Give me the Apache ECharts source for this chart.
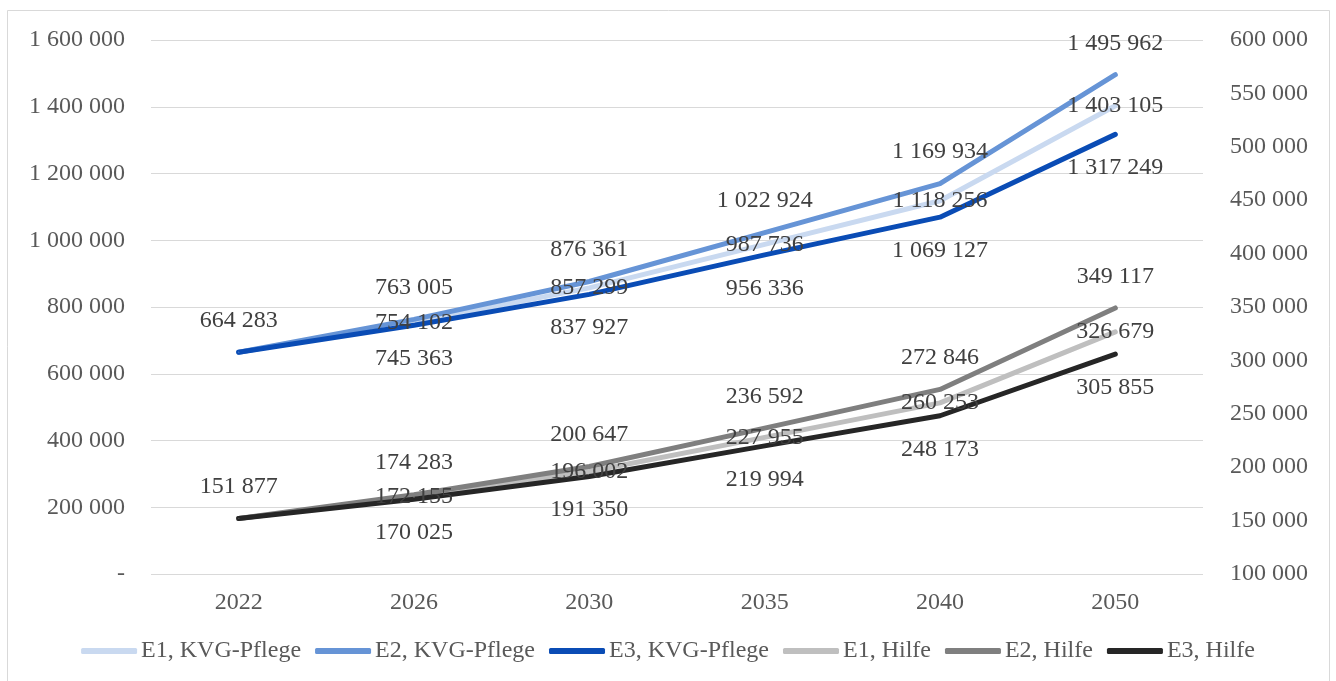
<!DOCTYPE html>
<html>
<head>
<meta charset="utf-8">
<script src="https://cdn.jsdelivr.net/npm/echarts@6/dist/echarts.min.js"></script>
<style>
  html, body { margin: 0; padding: 0; background: #ffffff; }
  #chart { width: 1336px; height: 681px; }
</style>
</head>
<body>
<div id="chart"></div>
<script>
// Years on the category axis
const years = ['2022', '2026', '2030', '2035', '2040', '2050'];

// KVG-Pflege scenarios (left axis)
const e1Kvg = [664283, 754102, 857299, 987736, 1118256, 1403105];
const e2Kvg = [664283, 763005, 876361, 1022924, 1169934, 1495962];
const e3Kvg = [664283, 745363, 837927, 956336, 1069127, 1317249];

// Hilfe scenarios (right axis)
const e1Hilfe = [151877, 172155, 196002, 227955, 260253, 326679];
const e2Hilfe = [151877, 174283, 200647, 236592, 272846, 349117];
const e3Hilfe = [151877, 170025, 191350, 219994, 248173, 305855];

const FONT = '"Liberation Serif", "Times New Roman", serif';

// Thousands separated by a space, zero shown as a dash
function fmt(v) {
  if (v === 0) return '-';
  return String(Math.round(v)).replace(/\B(?=(\d{3})+(?!\d))/g, ' ');
}

// Label placement per scenario: E2 above, E1 on the line, E3 below.
// The shared 2022 start value is labelled only once (on E2).
function makeSeries(name, values, color, axisIndex, placement) {
  const labelCfg = {
    show: true,
    fontFamily: FONT,
    fontSize: 24,
    color: '#404040',
    formatter: p => fmt(p.value)
  };
  if (placement === 'top') { labelCfg.position = 'top'; labelCfg.distance = 19; }
  else if (placement === 'bottom') { labelCfg.position = 'bottom'; labelCfg.distance = 21; }
  else { labelCfg.position = 'inside'; }

  const data = values.map((v, i) => {
    if (i === 0 && placement !== 'top') return { value: v, label: { show: false } };
    return v;
  });

  return {
    name: name,
    type: 'line',
    yAxisIndex: axisIndex,
    data: data,
    symbol: 'circle',
    symbolSize: 1,
    showSymbol: true,
    itemStyle: { color: color },
    lineStyle: { color: color, width: 5, cap: 'round', join: 'round' },
    label: labelCfg,
    labelLayout: { hideOverlap: false },
    emphasis: { disabled: true },
    silent: true,
    animation: false
  };
}

const chart = echarts.init(document.getElementById('chart'), null, { renderer: 'canvas' });

const axisLabelStyle = { fontFamily: FONT, fontSize: 24, color: '#595959' };

chart.setOption({
  backgroundColor: '#ffffff',
  animation: false,
  graphic: [{
    type: 'rect',
    shape: { x: 7.5, y: 10.5, width: 1322, height: 680 },
    style: { fill: 'none', stroke: '#d9d9d9', lineWidth: 1 },
    silent: true,
    z: -1
  }],
  grid: { left: 151, right: 133, top: 40, bottom: 107, containLabel: false },
  legend: {
    bottom: 13,
    left: 'center',
    itemWidth: 56,
    itemHeight: 6,
    itemGap: 14,
    icon: 'roundRect',
    textStyle: { fontFamily: FONT, fontSize: 24, color: '#595959', padding: [0, 0, 0, -1] },
    data: ['E1, KVG-Pflege', 'E2, KVG-Pflege', 'E3, KVG-Pflege', 'E1, Hilfe', 'E2, Hilfe', 'E3, Hilfe']
  },
  xAxis: {
    type: 'category',
    data: years,
    boundaryGap: true,
    axisLine: { show: false },
    axisTick: { show: false },
    axisLabel: Object.assign({ margin: 17 }, axisLabelStyle),
    splitLine: { show: false }
  },
  yAxis: [
    {
      type: 'value',
      min: 0, max: 1600000, interval: 200000,
      position: 'left',
      axisLine: { show: false },
      axisTick: { show: false },
      axisLabel: Object.assign({ margin: 26, formatter: v => fmt(v) }, axisLabelStyle),
      splitLine: { show: true, lineStyle: { color: '#d9d9d9', width: 1 } }
    },
    {
      type: 'value',
      min: 100000, max: 600000, interval: 50000,
      position: 'right',
      axisLine: { show: false },
      axisTick: { show: false },
      axisLabel: Object.assign({ margin: 27, formatter: v => fmt(v) }, axisLabelStyle),
      splitLine: { show: false }
    }
  ],
  series: [
    makeSeries('E1, KVG-Pflege', e1Kvg, '#c9d9f0', 0, 'inside'),
    makeSeries('E2, KVG-Pflege', e2Kvg, '#6694d6', 0, 'top'),
    makeSeries('E3, KVG-Pflege', e3Kvg, '#0a4cb5', 0, 'bottom'),
    makeSeries('E1, Hilfe', e1Hilfe, '#bfbfbf', 1, 'inside'),
    makeSeries('E2, Hilfe', e2Hilfe, '#7f7f7f', 1, 'top'),
    makeSeries('E3, Hilfe', e3Hilfe, '#262626', 1, 'bottom')
  ]
});
</script>
</body>
</html>
